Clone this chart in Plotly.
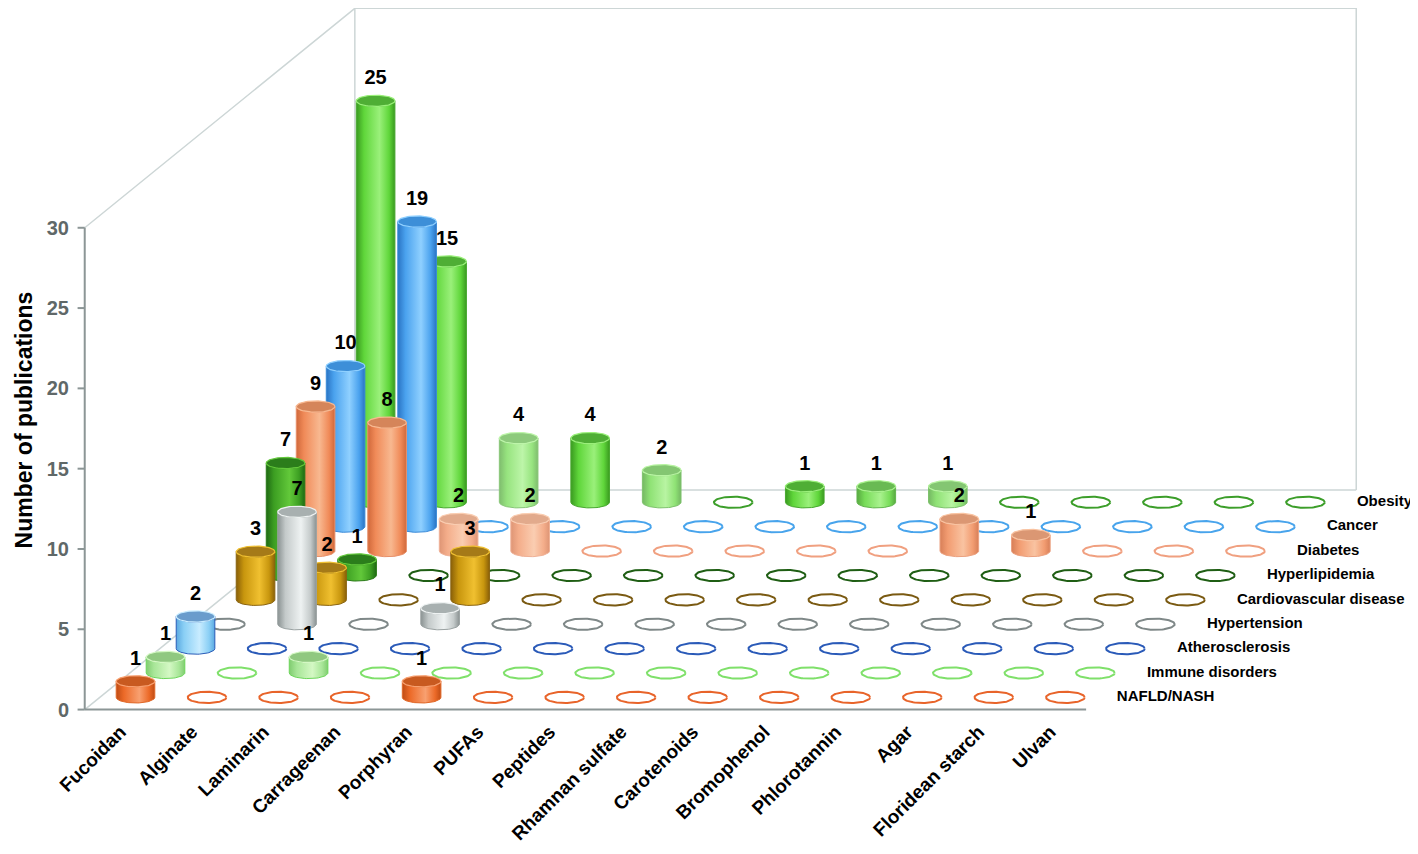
import numpy as np
import plotly.graph_objects as go

# ----------
# Data
# ----------
compounds = ["Fucoidan", "Alginate", "Laminarin", "Carrageenan", "Porphyran", "PUFAs", "Peptides",
             "Rhamnan sulfate", "Carotenoids", "Bromophenol", "Phlorotannin", "Agar",
             "Floridean starch", "Ulvan"]

# series, front row first
diseases = ["NAFLD/NASH", "Immune disorders", "Atherosclerosis", "Hypertension",
            "Cardiovascular disease", "Hyperlipidemia", "Diabetes", "Cancer", "Obesity"]

nafld = [1, 0, 0, 0, 1, 0, 0, 0, 0, 0, 0, 0, 0, 0]
immune = [1, 0, 1, 0, 0, 0, 0, 0, 0, 0, 0, 0, 0, 0]
atherosclerosis = [2, 0, 0, 0, 0, 0, 0, 0, 0, 0, 0, 0, 0, 0]
hypertension = [0, 7, 0, 1, 0, 0, 0, 0, 0, 0, 0, 0, 0, 0]
cardiovascular = [3, 2, 0, 3, 0, 0, 0, 0, 0, 0, 0, 0, 0, 0]
hyperlipidemia = [7, 1, 0, 0, 0, 0, 0, 0, 0, 0, 0, 0, 0, 0]
diabetes = [9, 8, 2, 2, 0, 0, 0, 0, 0, 2, 1, 0, 0, 0]
cancer = [10, 19, 0, 0, 0, 0, 0, 0, 0, 0, 0, 0, 0, 0]
obesity = [25, 15, 4, 4, 2, 0, 1, 1, 1, 0, 0, 0, 0, 0]

y_ticks = [0, 5, 10, 15, 20, 25, 30]

series = [nafld, immune, atherosclerosis, hypertension, cardiovascular,
          hyperlipidemia, diabetes, cancer, obesity]

# (dark, mid, light, top, edge, ring)
colors = [
    ("#c04c14", "#ec6a28", "#f8a070", "#c85a20", "#e06828", "#e8642a"),
    ("#80cc70", "#a8e698", "#d4f8c4", "#90c880", "#6cd65a", "#7fe06a"),
    ("#5aa8e0", "#8acff5", "#c8ecff", "#6a9ccc", "#2a5cb8", "#2a5ab8"),
    ("#8a9292", "#c4caca", "#eef2f2", "#a8b0b0", "#9aa2a2", "#7f8888"),
    ("#8a6008", "#c8960e", "#f0c030", "#a57a18", "#8a6410", "#7a5a12"),
    ("#1f6a14", "#3c9e22", "#62c83a", "#2b7d1b", "#2a7a18", "#1f5e14"),
    ("#d0683a", "#f08a58", "#f8b890", "#d5855a", "#e8906a", "#f0a080"),
    ("#2a74c4", "#4aa2ee", "#8fd0ff", "#3d8fd8", "#3a8ad8", "#48a4ec"),
    ("#3a9a20", "#5fd63a", "#9af07a", "#4fae35", "#48a830", "#3c9e2a"),
]
# a few cylinders are drawn in a paler tint in the original (row, column): amount
pale = {(8, 2): 0.35, (8, 4): 0.3, (8, 7): 0.15, (8, 8): 0.3,
        (6, 2): 0.3, (6, 3): 0.3, (6, 9): 0.15, (6, 10): 0.15}

FONT = "Liberation Sans, Arial, sans-serif"

# oblique projection: each depth row shifts right and up
DX = 30 / 71.5
DY = 24.4 / 16.07
RX, RY = 0.27, 0.35
LABEL_OFF = 1.35
N_ROWS = len(diseases)
N_CAT = len(compounds)


def tint(hex_col, amt):
    r, g, b = (int(hex_col[k:k + 2], 16) for k in (1, 3, 5))
    r, g, b = (round(c + (255 - c) * amt) for c in (r, g, b))
    return "#%02x%02x%02x" % (r, g, b)


fig = go.Figure()

# ----------
# Walls / floor
# ----------
back_x0 = N_ROWS * DX
back_y0 = N_ROWS * DY
wall_x = [0, back_x0, None,
          0, back_x0, N_CAT + back_x0, N_CAT + back_x0, None,
          back_x0, back_x0, None,
          back_x0, N_CAT + back_x0]
wall_y = [0, back_y0, None,
          30, 30 + back_y0, 30 + back_y0, back_y0, None,
          back_y0, 30 + back_y0, None,
          back_y0, back_y0]
fig.add_trace(go.Scatter(x=wall_x, y=wall_y, mode="lines",
                         line=dict(color="#cdd6d6", width=1.5), hoverinfo="skip"))

front_x = [0, 0, None, 0, N_CAT]
front_y = [y_ticks[-1], 0, None, 0, 0]
for v in y_ticks:
    front_x += [None, -0.1, 0]
    front_y += [None, v, v]
fig.add_trace(go.Scatter(x=front_x, y=front_y, mode="lines",
                         line=dict(color="#8c9696", width=2), hoverinfo="skip"))

# ----------
# Cylinders, back row first
# ----------
th_low = np.linspace(np.pi, 2 * np.pi, 40)
th_all = np.linspace(0, 2 * np.pi, 80)

lab_x, lab_y, lab_t = [], [], []
for j in range(N_ROWS - 1, -1, -1):
    vals = series[j]
    ring = colors[j][5]
    y0 = (j + 0.5) * DY

    rx, ry = [], []
    for i, v in enumerate(vals):
        if v == 0:
            cx = i + 0.5 + (j + 0.5) * DX
            rx += list(cx + RX * np.cos(th_all)) + [None]
            ry += list(y0 + RY * np.sin(th_all)) + [None]
    fig.add_trace(go.Scatter(x=rx, y=ry, mode="lines", line=dict(color=ring, width=2),
                             hoverinfo="skip"))

    for i, v in enumerate(vals):
        if v == 0:
            continue
        amt = pale.get((j, i), 0)
        dark, mid, light, top, edge = (tint(c, amt) for c in colors[j][:5])
        cx = i + 0.5 + (j + 0.5) * DX
        y1 = y0 + v
        bx = cx + RX * np.cos(th_low)
        by = y0 + RY * np.sin(th_low)
        tx = cx + RX * np.cos(th_low[::-1])
        ty = y1 + RY * np.sin(th_low[::-1])
        xs = np.concatenate([bx, tx, bx[:1]])
        ys = np.concatenate([by, ty, by[:1]])
        fig.add_trace(go.Scatter(
            x=xs, y=ys, mode="lines", fill="toself",
            fillgradient=dict(type="horizontal",
                              colorscale=[[0, dark], [0.2, mid], [0.6, light], [0.85, mid], [1, dark]]),
            line=dict(color=edge, width=1), hoverinfo="skip"))
        fig.add_trace(go.Scatter(
            x=cx + RX * np.cos(th_all), y=y1 + RY * np.sin(th_all), mode="lines", fill="toself",
            fillcolor=top, line=dict(color=light, width=1.2), hoverinfo="skip"))
        lab_x.append(cx)
        lab_y.append(y1 + LABEL_OFF)
        lab_t.append(str(v))

# value labels
fig.add_trace(go.Scatter(x=lab_x, y=lab_y, text=lab_t, mode="text", cliponaxis=False,
                         textfont=dict(family=FONT, size=20, color="black", weight="bold"),
                         hoverinfo="skip"))

# series names at the end of each row
fig.add_trace(go.Scatter(
    x=[N_CAT + (j + 0.5) * DX + 0.22 for j in range(N_ROWS)],
    y=[(j + 0.5) * DY for j in range(N_ROWS)],
    text=diseases, mode="text", textposition="middle right", cliponaxis=False,
    textfont=dict(family=FONT, size=15, color="black", weight="bold"), hoverinfo="skip"))

# ----------
# Layout (page body adds an 8px offset)
# ----------
PX_X, PX_Y = 71.5, 16.07
ORIGIN_X, ORIGIN_Y = 77, 702
x_range = [-0.15, 18.5]
y_range = [-0.4, ORIGIN_Y / PX_Y]
W, H = 1410, 846
ml = ORIGIN_X + x_range[0] * PX_X
mr = W - ml - (x_range[1] - x_range[0]) * PX_X
mt = 0
mb = H - (y_range[1] - y_range[0]) * PX_Y

fig.update_layout(
    width=W, height=H,
    margin=dict(l=ml, r=mr, t=mt, b=mb, pad=0),
    plot_bgcolor="white", paper_bgcolor="white",
    showlegend=False,
    xaxis=dict(range=x_range, showgrid=False, zeroline=False, showline=False, ticks="",
               tickvals=[i + 0.5 for i in range(N_CAT)], ticktext=compounds, tickangle=-45,
               tickfont=dict(family=FONT, size=19, color="black", weight="bold"),
               automargin=False, fixedrange=True),
    yaxis=dict(range=y_range, showgrid=False, zeroline=False, showline=False, ticks="",
               tickvals=y_ticks, ticklabelstandoff=4,
               tickfont=dict(family=FONT, size=20, color="#5f6868", weight="bold"),
               automargin=False, fixedrange=True),
    annotations=[dict(text="Number of publications", textangle=-90,
                      xref="paper", yref="paper", xanchor="center", yanchor="middle",
                      x=(16 - ml) / (W - ml - mr), y=(H - 412 - mb) / (H - mt - mb),
                      showarrow=False,
                      font=dict(family=FONT, size=23, color="black", weight="bold"))],
)

fig.write_html("out.html")
